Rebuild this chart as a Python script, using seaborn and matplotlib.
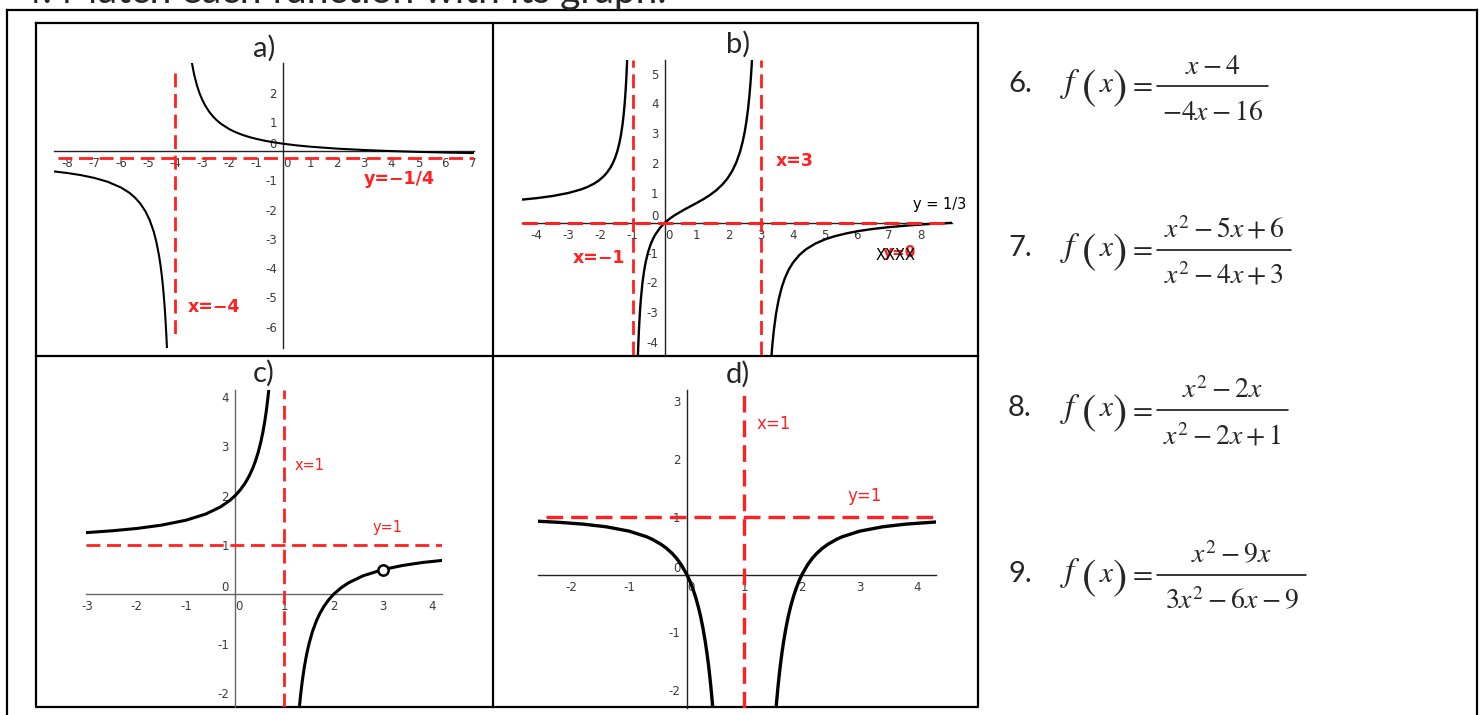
import matplotlib
matplotlib.use("Agg")
import matplotlib.pyplot as plt
import seaborn as sns

sns.set_style("white")
plt.rcParams["font.family"] = ["DejaVu Sans"]
plt.rcParams["mathtext.fontset"] = "stix"

# ---------------- data ----------------
title_text = "4. Match each function with its graph."
panel_names = ["a)", "b)", "c)", "d)"]

# graph a)
a_up_x = [-3.45, -3.4, -3.3, -3.2, -3.1, -3.0, -2.9, -2.75, -2.6, -2.45, -2.3, -2.0, -1.8,
          -1.6, -1.4, -1.2, -1.0, -0.7, -0.4, 0, 0.5, 1, 2, 3, 4, 5, 6, 7.1]
a_up_y = [3.386, 3.083, 2.607, 2.25, 1.972, 1.75, 1.568, 1.35, 1.179, 1.040, 0.926, 0.75,
          0.659, 0.583, 0.519, 0.464, 0.417, 0.356, 0.306, 0.25, 0.194, 0.15, 0.083, 0.036,
          0.0, -0.028, -0.05, -0.070]
a_lo_x = [-8.5, -8, -7.5, -7, -6.5, -6, -5.7, -5.5, -5.3, -5.1, -4.95, -4.8, -4.7, -4.6,
          -4.55, -4.5, -4.45, -4.4, -4.37, -4.33, -4.31, -4.29]
a_lo_y = [-0.694, -0.75, -0.821, -0.917, -1.05, -1.25, -1.426, -1.583, -1.788, -2.068,
          -2.355, -2.75, -3.107, -3.583, -3.886, -4.25, -4.694, -5.25, -5.655, -6.311,
          -6.702, -7.147]
a_asym_x, a_asym_y = -4, -0.25
a_xticks = list(range(-8, 8))
a_yticks = list(range(-6, 3))

# graph b)
b_l_x = [-4.5, -4, -3.5, -3, -2.6, -2.4, -2.2, -2.05, -1.9, -1.8, -1.7, -1.62, -1.55,
         -1.48, -1.42, -1.37, -1.32, -1.28, -1.25, -1.22, -1.2, -1.18, -1.16]
b_l_y = [0.771, 0.825, 0.897, 1.0, 1.122, 1.206, 1.316, 1.424, 1.565, 1.6875, 1.843, 2.002,
         2.178, 2.404, 2.657, 2.929, 3.285, 3.660, 4.020, 4.477, 4.857, 5.322, 5.902]
b_m_x = [-0.85, -0.83, -0.82, -0.8, -0.775, -0.75, -0.7, -0.65, -0.6, -0.525, -0.45,
         -0.375, -0.3, -0.15, 0, 0.15, 0.3, 0.6, 0.8, 1.0, 1.2, 1.4, 1.6, 1.8, 1.95, 2.1,
         2.23, 2.35, 2.43, 2.5, 2.55, 2.6, 2.64, 2.68, 2.71, 2.74]
b_m_y = [-4.833, -4.177, -3.904, -3.439, -2.973, -2.6, -2.039, -1.637, -1.333, -0.996,
         -0.747, -0.556, -0.403, -0.171, 0.0, 0.135, 0.248, 0.4375, 0.552, 0.667, 0.788,
         0.924, 1.084, 1.286, 1.479, 1.731, 2.023, 2.392, 2.722, 3.095, 3.432, 3.852, 4.271,
         4.794, 5.281, 5.880]
b_r_x = [3.3, 3.35, 3.4, 3.47, 3.55, 3.65, 3.75, 3.87, 4.0, 4.2, 4.4, 4.7, 5.0, 5.3, 5.7,
         6.1, 6.5, 7.0, 7.5, 8.0, 8.5, 9.0]
b_r_y = [-4.860, -4.144, -3.606, -3.045, -2.577, -2.154, -1.842, -1.562, -1.333, -1.077,
         -0.892, -0.695, -0.556, -0.451, -0.347, -0.268, -0.206, -0.146, -0.098, -0.059,
         -0.027, 0.0]
b_asym_x = [-1, 3]
b_asym_y = 0
b_xticks = list(range(-4, 9))
b_yticks = list(range(-4, 6))

# graph c)
c_l_x = [-3.05, -2.5, -2, -1.5, -1, -0.6, -0.3, -0.1, 0, 0.1, 0.2, 0.28, 0.35, 0.41, 0.47,
         0.52, 0.56, 0.6, 0.63, 0.66, 0.68, 0.7]
c_l_y = [1.247, 1.286, 1.333, 1.4, 1.5, 1.625, 1.769, 1.909, 2.0, 2.111, 2.25, 2.389, 2.538,
         2.695, 2.887, 3.083, 3.273, 3.5, 3.703, 3.941, 4.125, 4.333]
c_r_x = [1.29, 1.31, 1.33, 1.36, 1.4, 1.45, 1.5, 1.57, 1.65, 1.72, 1.8, 1.9, 2.0, 2.15, 2.3,
         2.6, 3.0, 3.4, 3.8, 4.25]
c_r_y = [-2.448, -2.226, -2.030, -1.778, -1.5, -1.222, -1.0, -0.754, -0.538, -0.389, -0.25,
         -0.111, 0.0, 0.130, 0.231, 0.375, 0.5, 0.583, 0.643, 0.69]
c_hole = (3, 0.5)
c_asym_x, c_asym_y = 1, 1
c_xticks = list(range(-3, 5))
c_yticks = list(range(-2, 5))

# graph d)
d_l_x = [-2.6, -2.2, -1.8, -1.4, -1.0, -0.7, -0.6, -0.45, -0.35, -0.25, -0.18, -0.1, 0,
         0.05, 0.1, 0.15, 0.2, 0.24, 0.28, 0.32, 0.35, 0.38, 0.4, 0.42, 0.44, 0.46]
d_l_y = [0.923, 0.902, 0.872, 0.826, 0.75, 0.654, 0.609, 0.524, 0.451, 0.36, 0.282, 0.174,
         0.0, -0.108, -0.235, -0.384, -0.5625, -0.731, -0.929, -1.163, -1.367, -1.601,
         -1.778, -1.973, -2.189, -2.429]
d_r_x = [1.54, 1.56, 1.58, 1.6, 1.62, 1.65, 1.68, 1.72, 1.76, 1.8, 1.85, 1.9, 1.95, 2.0,
         2.1, 2.18, 2.25, 2.35, 2.45, 2.6, 2.7, 3.0, 3.4, 3.8, 4.35]
d_r_y = [-2.429, -2.189, -1.973, -1.778, -1.601, -1.367, -1.163, -0.929, -0.731, -0.5625,
         -0.384, -0.235, -0.108, 0.0, 0.174, 0.282, 0.36, 0.451, 0.524, 0.609, 0.654, 0.75,
         0.826, 0.872, 0.911]
d_asym_x, d_asym_y = 1, 1
d_xticks = list(range(-2, 5))
d_yticks = list(range(-2, 4))

# formulas
formula_labels = ["6.", "7.", "8.", "9."]
formula_nums = [r"$x-4$", r"$x^2-5x+6$", r"$x^2-2x$", r"$x^2-9x$"]
formula_dens = [r"$-4x-16$", r"$x^2-4x+3$", r"$x^2-2x+1$", r"$3x^2-6x-9$"]

# ---------------- layout ----------------
W, H = 1483, 715
RED = "#ff2020"
fig = plt.figure(figsize=(W / 100, H / 100), dpi=100)
bg = fig.add_axes([0, 0, 1, 1])
bg.set_xlim(0, W)
bg.set_ylim(H, 0)
bg.axis("off")

LBL_FONT = ["Lato", "DejaVu Sans"]

# frame lines
frame_kw = dict(color="black", lw=1.6, solid_capstyle="projecting")
bg.plot([7, 1477], [10, 10], **frame_kw)
bg.plot([7, 7], [10, 716], **frame_kw)
bg.plot([1477, 1477], [10, 716], **frame_kw)
bg.plot([36, 978, 978, 36, 36], [23, 23, 707, 707, 23], **frame_kw)
bg.plot([492.7, 492.7], [23, 707], **frame_kw)
bg.plot([36, 978], [356, 356], **frame_kw)

# title (cut off at the top of the image, as in the source)
bg.text(20, 3, title_text, fontsize=28, family=LBL_FONT, ha="left", va="baseline")

# panel labels
for name, (cx, by) in zip(panel_names, [(264, 57), (738, 53), (264, 382), (738, 383)]):
    bg.text(cx, by, name, fontsize=21, family=LBL_FONT, ha="center", va="baseline")

# formulas
bars = [(85.6, 1157, 1268), (249.6, 1157, 1291), (410, 1157, 1288), (575, 1157, 1306)]
for lab, num, den, (by, x0, x1) in zip(formula_labels, formula_nums, formula_dens, bars):
    base = by + 6.5
    bg.text(1008, base, lab, fontsize=21, family=LBL_FONT, ha="left", va="baseline")
    bg.text(1060, base, r"$f$", fontsize=24, ha="left", va="baseline")
    bg.text(1089, by + 14, "(", fontsize=31, family="STIXGeneral", ha="center", va="baseline")
    bg.text(1107, base, r"$x$", fontsize=21, ha="center", va="baseline")
    bg.text(1120, by + 14, ")", fontsize=31, family="STIXGeneral", ha="center", va="baseline")
    bg.text(1140, base, r"$=$", fontsize=21, ha="center", va="baseline")
    bg.plot([x0, x1], [by, by], color="black", lw=1.1)
    cx = (x0 + x1) / 2
    bg.text(cx, by - 12, num, fontsize=20, ha="center", va="baseline")
    bg.text(cx, by + 34, den, fontsize=20, ha="center", va="baseline")


def make_ax(l, t, r, b):
    return fig.add_axes([l / W, 1 - b / H, (r - l) / W, (b - t) / H])


def style(ax, xlim, ylim, xt, yt, axcol):
    ax.set_xlim(xlim)
    ax.set_ylim(ylim)
    ax.patch.set_alpha(0)
    ax.set_xlabel("")
    ax.set_ylabel("")
    for s in ["top", "right"]:
        ax.spines[s].set_visible(False)
    for s in ["left", "bottom"]:
        ax.spines[s].set_position(("data", 0))
        ax.spines[s].set_color(axcol)
        ax.spines[s].set_linewidth(1.0)
        ax.spines[s].set_zorder(1)
    ax.set_xticks(xt, [str(v) for v in xt])
    ax.set_yticks(yt, [str(v) for v in yt])
    ax.tick_params(direction="out", length=3, width=0.8, labelsize=8.5,
                   labelcolor="#3a3a3a", color=axcol, pad=1.5)
    for lab in ax.get_xticklabels():
        if lab.get_text() == "0":
            lab.set_ha("left")
    for lab in ax.get_yticklabels():
        if lab.get_text() == "0":
            lab.set_va("bottom")


def curve(ax, xs, ys, lw):
    sns.lineplot(x=xs, y=ys, ax=ax, color="black", linewidth=lw, estimator=None,
                 sort=False, errorbar=None, zorder=3)


def dashed(ax, xs, ys, lw):
    ax.plot(xs, ys, color=RED, lw=lw, dashes=(5, 2.4), zorder=4, solid_capstyle="butt")


# ---- a) ----
ax = make_ax(54.3, 63.3, 474, 348.3)
a_xl, a_yl = (-8.48, 7.06), (-6.74, 3.0)
curve(ax, a_up_x, a_up_y, 1.5)
curve(ax, a_lo_x, a_lo_y, 1.5)
dashed(ax, [a_asym_x, a_asym_x], [2.66, -6.45], 2.0)
dashed(ax, [-8.36, 7.06], [a_asym_y, a_asym_y], 2.0)
style(ax, a_xl, a_yl, a_xticks, a_yticks, "#222222")

# ---- b) ----
ax = make_ax(521.5, 59.6, 952.4, 354.6)
b_xl, b_yl = (-4.47, 8.97), (-4.42, 5.47)
for xs, ys in [(b_l_x, b_l_y), (b_m_x, b_m_y), (b_r_x, b_r_y)]:
    curve(ax, xs, ys, 1.7)
for xv in b_asym_x:
    dashed(ax, [xv, xv], list(b_yl), 2.0)
dashed(ax, list(b_xl), [b_asym_y, b_asym_y], 2.2)
style(ax, b_xl, b_yl, b_xticks, b_yticks, "#222222")

# ---- c) ----
ax = make_ax(86, 390, 442, 706.7)
c_xl, c_yl = (-3.03, 4.20), (-2.28, 4.14)
curve(ax, c_l_x, c_l_y, 2.2)
curve(ax, c_r_x, c_r_y, 2.2)
dashed(ax, [c_asym_x, c_asym_x], list(c_yl), 2.0)
dashed(ax, list(c_xl), [c_asym_y, c_asym_y], 2.0)
sns.scatterplot(x=[c_hole[0]], y=[c_hole[1]], ax=ax, s=55, color="white",
                edgecolor="black", linewidth=1.8, zorder=5)
style(ax, c_xl, c_yl, c_xticks, c_yticks, "#666666")

# ---- d) ----
ax = make_ax(538.3, 390.2, 935.6, 708)
d_xl, d_yl = (-2.58, 4.32), (-2.31, 3.19)
curve(ax, d_l_x, d_l_y, 2.4)
curve(ax, d_r_x, d_r_y, 2.4)
dashed(ax, [d_asym_x, d_asym_x], list(d_yl), 2.4)
dashed(ax, [-2.45, 4.32], [d_asym_y, d_asym_y], 2.4)
style(ax, d_xl, d_yl, d_xticks, d_yticks, "#222222")

# ---- asymptote labels ----
bold = dict(color=RED, fontweight="bold", fontsize=12.5, ha="left", va="center")
bg.text(187.7, 306.7, "x=−4", **bold)
bg.text(364, 179, "y=−1/4", **bold)
bg.text(775.6, 161, "x=3", **bold)
bg.text(572.5, 257.6, "x=−1", **bold)
bg.text(913, 204.6, "y = 1/3", color="black", fontsize=10.5, ha="left", va="center")
bg.text(883, 253, "y=0", color=RED, fontweight="bold", fontsize=11, ha="left", va="center")
bg.text(876, 255, "XXXX", color="black", fontsize=10.5, ha="left", va="center")
bg.text(295, 465, "x=1", color=RED, fontsize=10.5, ha="left", va="center")
bg.text(372.7, 527.7, "y=1", color=RED, fontsize=10.5, ha="left", va="center")
bg.text(757, 423.8, "x=1", color=RED, fontsize=12, ha="left", va="center")
bg.text(847.7, 496, "y=1", color=RED, fontsize=12, ha="left", va="center")

fig.savefig("out.png", dpi=100)
